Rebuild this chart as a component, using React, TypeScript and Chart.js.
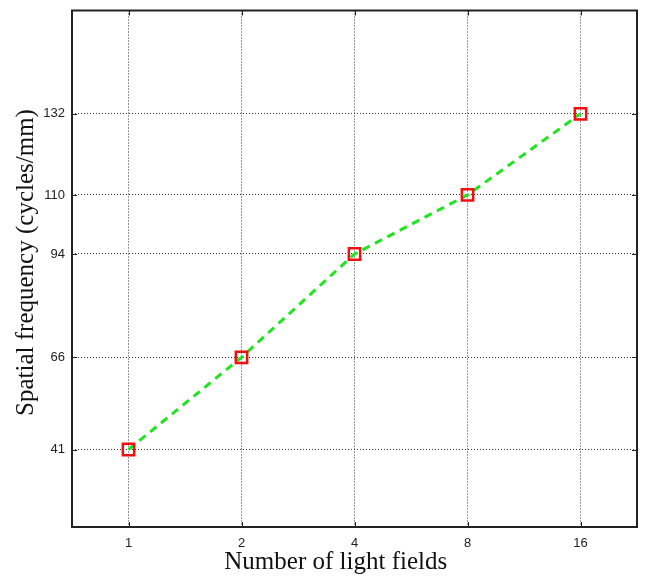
import React, { useEffect, useRef } from "react";
import { Chart, registerables } from "chart.js";

Chart.register(...registerables);

const categories = ["1", "2", "4", "8", "16"];
const values = [41, 66, 94, 110, 132];
const yTicks = [41, 66, 94, 110, 132];
const xTitle = "Number of light fields";
const yTitle = "Spatial frequency (cycles/mm)";

const boxPlugin = {
  id: "boxPlugin",
  afterDraw(chart: any) {
    const { ctx, chartArea } = chart;
    const { left, top, right, bottom } = chartArea;
    ctx.save();
    ctx.strokeStyle = "#222";
    ctx.lineWidth = 1;
    const tl = 5;
    const xs = chart.scales.x;
    const ys = chart.scales.y;
    ctx.beginPath();
    categories.forEach((_, i) => {
      const px = Math.round(xs.getPixelForValue(i)) + 0.5;
      ctx.moveTo(px, bottom);
      ctx.lineTo(px, bottom - tl);
      ctx.moveTo(px, top);
      ctx.lineTo(px, top + tl);
    });
    yTicks.forEach((v) => {
      const py = Math.round(ys.getPixelForValue(v)) + 0.5;
      ctx.moveTo(left, py);
      ctx.lineTo(left + tl, py);
      ctx.moveTo(right, py);
      ctx.lineTo(right - tl, py);
    });
    ctx.stroke();
    ctx.lineWidth = 2;
    ctx.strokeRect(left, top, right - left, bottom - top);
    ctx.restore();
  },
};

export default function App() {
  const ref = useRef<HTMLCanvasElement | null>(null);
  useEffect(() => {
    if (!ref.current) return;
    const chart = new Chart(ref.current, {
      type: "line",
      data: {
        labels: categories,
        datasets: [
          {
            data: values,
            borderColor: "#1ee61e",
            borderWidth: 3,
            borderDash: [8, 6],
            pointStyle: "rect",
            pointRadius: 8,
            pointBorderColor: "#f01010",
            pointBackgroundColor: "rgba(0,0,0,0)",
            pointBorderWidth: 2.5,
            tension: 0,
          },
        ],
      },
      options: {
        animation: false,
        responsive: false,
        events: [],
        layout: { padding: { top: 7, right: 12, left: 0, bottom: 0 } },
        plugins: { legend: { display: false }, tooltip: { enabled: false } },
        scales: {
          x: {
            type: "category",
            offset: true,
            afterFit(scale: any) {
              scale.height = 50;
              scale.paddingLeft = 0;
              scale.paddingRight = 0;
            },
            grid: {
              color: "#333",
              lineWidth: 1,
              drawTicks: false,
            },
            border: { display: false, dash: [1, 2] },
            ticks: {
              color: "#222",
              padding: 9,
              font: { family: "Liberation Sans, Arial", size: 13 },
            },
            title: {
              display: true,
              text: xTitle + "\u00a0\u00a0\u00a0\u00a0\u00a0\u00a0",
              color: "#111",
              font: { family: "Liberation Serif, Times New Roman", size: 25 },
              padding: { top: 0, bottom: 0 },
            },
          },
          y: {
            type: "linear",
            min: 20,
            max: 160,
            afterFit(scale: any) {
              scale.width = 72;
              scale.paddingTop = 0;
              scale.paddingBottom = 0;
            },
            afterBuildTicks(scale: any) {
              scale.ticks = yTicks.map((v) => ({ value: v }));
            },
            grid: {
              color: "#333",
              lineWidth: 1,
              drawTicks: false,
            },
            border: { display: false, dash: [1, 2] },
            ticks: {
              color: "#222",
              padding: 7,
              font: { family: "Liberation Sans, Arial", size: 13 },
            },
            title: {
              display: true,
              text: "\u00a0\u00a0" + yTitle,
              color: "#111",
              font: { family: "Liberation Serif, Times New Roman", size: 25 },
              padding: { top: 11, bottom: 0 },
            },
          },
        },
      },
      plugins: [boxPlugin],
    });
    return () => chart.destroy();
  }, []);
  return (
    <div style={{ position: "absolute", left: 0, top: 0 }}>
      <canvas ref={ref} width={649} height={577} style={{ background: "#fff" }} />
    </div>
  );
}
